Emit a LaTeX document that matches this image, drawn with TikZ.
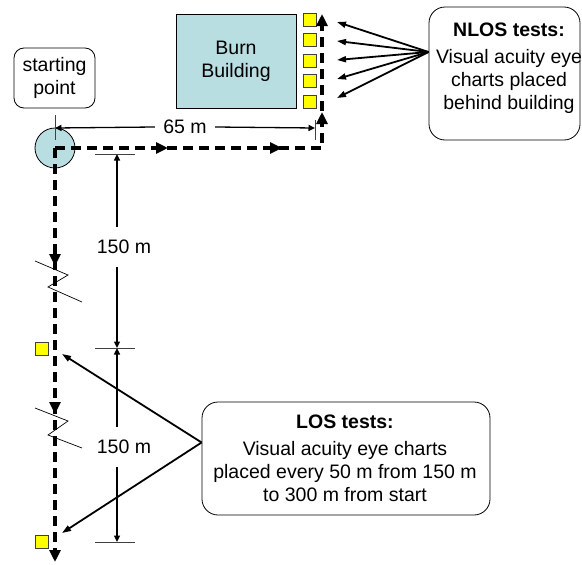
\documentclass[tikz,border=0pt]{standalone}
\usepackage{fontspec}
\setmainfont{Liberation Sans}
\usetikzlibrary{arrows.meta,decorations.markings}

\definecolor{paleblue}{HTML}{B8DEE2}
\definecolor{chartyellow}{HTML}{FFFF00}
\definecolor{edgegray}{HTML}{404040}

\tikzset{
  route/.style={line width=3.2pt, dash pattern=on 10pt off 6pt},
  routetip/.style={-{Triangle[length=12pt,width=11pt]}},
  chartsq/.style={draw=edgegray, line width=0.6pt, fill=chartyellow,
    minimum size=13pt, inner sep=0pt},
  callout/.style={line width=1.8pt, -{Triangle[length=9pt,width=6pt]}},
  dimline/.style={line width=1.3pt, -{Triangle[length=6.5pt,width=6pt]}},
  tick/.style={line width=0.7pt, draw=edgegray},
  notebox/.style={draw, line width=0.8pt, rounded corners=16pt},
  breakmark/.style={line width=0.7pt},
}

\begin{document}
\begin{tikzpicture}[x=1pt,y=-1pt,
  every node/.style={font=\fontsize{19.5}{23}\selectfont}]
\useasboundingbox (0,0) rectangle (582,565);

% building and the eye charts behind it
\node[draw, line width=0.8pt, fill=paleblue, minimum width=120pt,
  minimum height=94pt, align=center, inner sep=0pt] (burn) at (236,61)
  {Burn\\Building};
\foreach \i/\y in {1/19.5,2/40,3/60.5,4/81,5/101.5}
  \node[chartsq] (nl\i) at (309.5,\y) {};

% starting point
\node[draw, line width=0.8pt, rounded corners=10pt, minimum width=81pt,
  minimum height=60pt, align=center, inner sep=0pt] (startlbl) at (54.5,78)
  {starting\\point};
\node[circle, draw, line width=0.8pt, fill=paleblue, minimum size=40pt,
  inner sep=0pt] (start) at (55,148) {};

% eye charts along the straight run
\node[chartsq] (los1) at (41.5,348.5) {};
\node[chartsq] (los2) at (41.5,541.5) {};

% note boxes
\node[notebox, minimum width=151pt, minimum height=133pt] (nlosbox)
  at (504.5,73.5) {};
\node[align=center, inner sep=0pt] (nlostext) at (509,68)
  {\textbf{NLOS tests:}\\[4pt]Visual acuity eye\\charts placed\\behind building};
\node[notebox, minimum width=288pt, minimum height=113pt] (losbox)
  at (346,458.5) {};
\node[align=center, inner sep=0pt] (lostext) at (345,458)
  {\textbf{LOS tests:}\\[4pt]Visual acuity eye charts\\placed every 50 m from 150 m\\to 300 m from start};

% route ends and corner
\coordinate (turn) at (322,148);
\coordinate (nlostop) at (322,14);
\coordinate (losend) at (55,562);

% walking routes
\draw[route, routetip, postaction={decorate, decoration={markings,
    mark=at position 113pt with {\arrow{Triangle[length=12pt,width=11pt]}},
    mark=at position 227pt with {\arrow{Triangle[length=12pt,width=11pt]}},
    mark=at position 303pt with {\arrow{Triangle[length=12pt,width=11pt]}}}}]
  (start.center) -- (turn) -- (nlostop);
\draw[route, routetip, postaction={decorate, decoration={markings,
    mark=at position 118pt with {\arrow{Triangle[length=12pt,width=11pt]}},
    mark=at position 266pt with {\arrow{Triangle[length=12pt,width=11pt]}}}}]
  (start.center) -- (losend);

% distance breaks
\draw[breakmark] (35,261) -- (68,275) -- (48,287) -- (82,302);
\draw[breakmark] (35,408) -- (68,421) -- (48,435) -- (82,448);

% 65 m dimension
\coordinate (h0) at (55,128);
\coordinate (h1) at (315,128);
\node[minimum width=60pt, inner sep=0pt] (dimC) at (185,127) {65 m};
\draw[dimline] (dimC.west) -- (h0);
\draw[dimline] (dimC.east) -- (h1);
\draw[tick] (55,115) -- (55,140);
\draw[tick] (315,120) -- (315,140);

% 150 m dimensions
\coordinate (v0) at (117,154);
\coordinate (v1) at (117,348);
\coordinate (v2) at (117,542);
\node[minimum height=40pt, inner sep=0pt] (dimA) at (124,247) {150 m};
\node[minimum height=40pt, inner sep=0pt] (dimB) at (124,447) {150 m};
\draw[dimline] (dimA.north -| v0) -- (v0);
\draw[dimline] (dimA.south -| v0) -- (v1);
\draw[dimline] (dimB.north -| v0) -- (v1);
\draw[dimline] (dimB.south -| v0) -- (v2);
\foreach \c in {v0,v1,v2}
  \draw[tick] ([xshift=-22pt]\c) -- ([xshift=18pt]\c);

% callouts to the eye charts
\foreach \i/\y in {1/22,2/41,3/60,4/79,5/98} {
  \coordinate (nt\i) at (337,\y);
  \draw[callout] ([yshift=21.5pt]nlosbox.west) -- (nt\i);
}
\coordinate (lt1) at (62,354);
\coordinate (lt2) at (62,533);
\draw[callout] ([yshift=16pt]losbox.west) -- (lt1);
\draw[callout] ([yshift=16pt]losbox.west) -- (lt2);
\end{tikzpicture}
\end{document}
